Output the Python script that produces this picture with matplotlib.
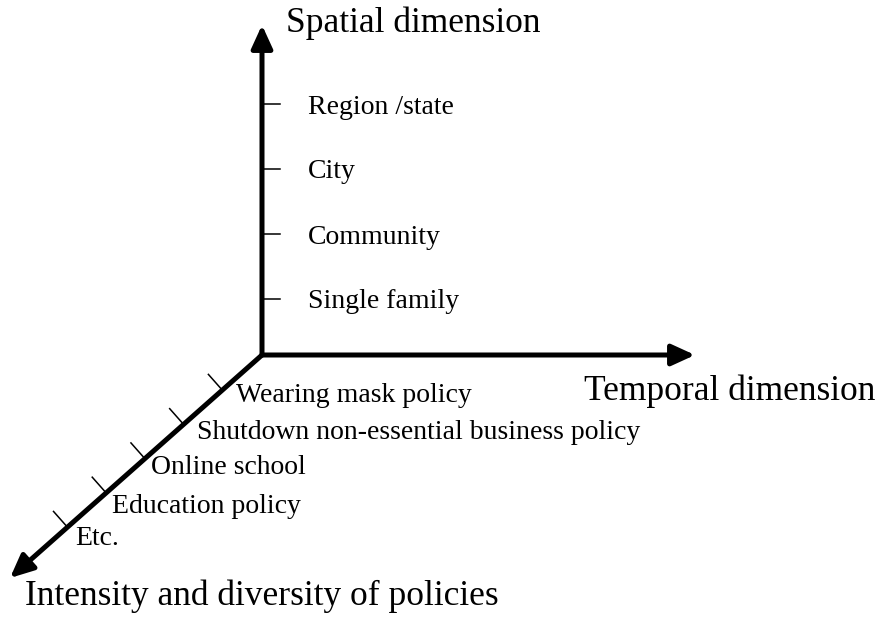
import numpy as np
import matplotlib.pyplot as plt

# Times-like serif font for everything
plt.rcParams['font.family'] = ['Liberation Serif', 'DejaVu Serif']

# Axis titles
spatial_title = 'Spatial dimension'
temporal_title = 'Temporal dimension'
policy_title = 'Intensity and diversity of policies'

# Levels on each axis, listed from the origin outwards
spatial_levels = ['Single family', 'Community', 'City', 'Region /state']
policy_levels = ['Wearing mask policy', 'Shutdown non-essential business policy',
                 'Online school', 'Education policy', 'Etc.']

# Layout in canvas pixels (y grows downwards)
origin = np.array([262.0, 355.0])
up_len = 330.0
right_len = 433.0
diag_tip = np.array([10.0, 578.0])
spatial_first, spatial_step = 56.0, 65.0
policy_first, policy_step = 53.0, 51.7
policy_nudge = [(14, 5), (13, 8), (6, 9), (6, 14), (8, 11)]

axis_lw = 3.6
tick_lw = 1.1
label_size = 20
title_size = 25.5

fig = plt.figure(figsize=(8.83, 6.17), dpi=100)
ax = fig.add_axes([0, 0, 1, 1])
ax.set_xlim(0, 883)
ax.set_ylim(617, 0)
ax.axis('off')

arrow = dict(arrowstyle='-|>,head_length=0.7,head_width=0.32', lw=axis_lw,
             color='black', shrinkA=0, shrinkB=0, mutation_scale=20)

# three axes
up_tip = origin + np.array([0, -up_len])
right_tip = origin + np.array([right_len, 0])
for tip in [up_tip, right_tip, diag_tip]:
    ax.annotate('', xy=tip, xytext=origin, arrowprops=arrow)

# spatial (vertical) ticks and labels
for i, lab in enumerate(spatial_levels):
    y = origin[1] - (spatial_first + i * spatial_step)
    ax.plot([origin[0], origin[0] + 18], [y, y], color='black', lw=tick_lw)
    ax.text(origin[0] + 46, y + 3, lab, fontsize=label_size, va='center', ha='left')

# policy (diagonal) ticks and labels
u = (diag_tip - origin) / np.linalg.norm(diag_tip - origin)
perp = np.array([u[1], -u[0]])
if perp[1] > 0:
    perp = -perp
for i, lab in enumerate(policy_levels):
    p = origin + u * (policy_first + i * policy_step)
    q = p + perp * 21
    ax.plot([p[0], q[0]], [p[1], q[1]], color='black', lw=tick_lw)
    dx, dy = policy_nudge[i]
    ax.text(p[0] + dx, p[1] + dy, lab, fontsize=label_size, va='center', ha='left')

# axis titles
ax.text(286, 23, spatial_title, fontsize=title_size, va='center', ha='left')
ax.text(584, 391, temporal_title, fontsize=title_size, va='center', ha='left')
ax.text(25, 596, policy_title, fontsize=title_size, va='center', ha='left')

fig.savefig('out.png', dpi=100)
